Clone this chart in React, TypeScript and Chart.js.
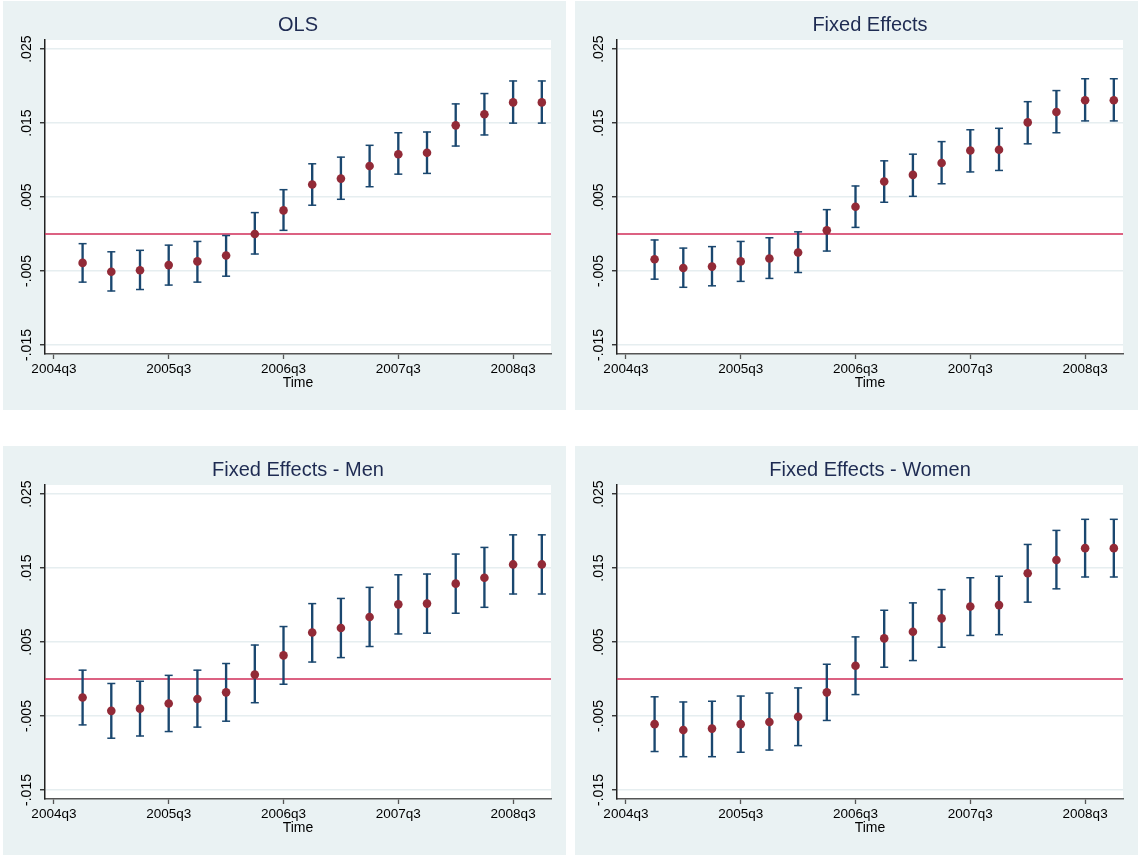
import React, { useEffect, useRef } from 'react';
import { Chart, registerables } from 'chart.js';

Chart.register(...registerables);
Chart.defaults.font.family = '"Liberation Sans", Arial, sans-serif';

// ---- data ----
const quarters = [
  '2004q4', '2005q1', '2005q2', '2005q3', '2005q4', '2006q1', '2006q2', '2006q3', '2006q4',
  '2007q1', '2007q2', '2007q3', '2007q4', '2008q1', '2008q2', '2008q3', '2008q4',
];
const xTickQuarters = ['2004q3', '2005q3', '2006q3', '2007q3', '2008q3'];
const yTickValues = [-0.015, -0.005, 0.005, 0.015, 0.025];
const yTickLabels = ['-.015', '-.005', '.005', '.015', '.025'];
const xAxisTitle = 'Time';
const panelTitles = ['OLS', 'Fixed Effects', 'Fixed Effects - Men', 'Fixed Effects - Women'];

const olsCoef = [-0.0039, -0.0051, -0.0049, -0.0042, -0.0037, -0.0029, 0.0000, 0.0032, 0.0067, 0.0075, 0.0092, 0.0108, 0.0110, 0.0147, 0.0162, 0.0178, 0.0178];
const olsLo = [-0.0065, -0.0077, -0.0075, -0.0069, -0.0065, -0.0057, -0.0027, 0.0005, 0.0039, 0.0047, 0.0064, 0.0081, 0.0082, 0.0119, 0.0134, 0.0150, 0.0150];
const olsHi = [-0.0013, -0.0024, -0.0022, -0.0015, -0.0010, -0.0002, 0.0029, 0.0060, 0.0095, 0.0104, 0.0120, 0.0137, 0.0138, 0.0176, 0.0190, 0.0207, 0.0207];

const feCoef = [-0.0034, -0.0046, -0.0044, -0.0037, -0.0033, -0.0025, 0.0005, 0.0037, 0.0071, 0.0080, 0.0096, 0.0113, 0.0114, 0.0151, 0.0165, 0.0181, 0.0181];
const feLo = [-0.0061, -0.0072, -0.0070, -0.0064, -0.0060, -0.0052, -0.0023, 0.0009, 0.0043, 0.0051, 0.0068, 0.0084, 0.0086, 0.0122, 0.0137, 0.0153, 0.0153];
const feHi = [-0.0008, -0.0019, -0.0017, -0.0010, -0.0005, 0.0003, 0.0033, 0.0065, 0.0099, 0.0108, 0.0125, 0.0141, 0.0143, 0.0179, 0.0194, 0.0210, 0.0210];

const menCoef = [-0.0025, -0.0043, -0.0040, -0.0033, -0.0027, -0.0018, 0.0006, 0.0032, 0.0063, 0.0069, 0.0084, 0.0101, 0.0102, 0.0129, 0.0137, 0.0155, 0.0155];
const menLo = [-0.0062, -0.0080, -0.0077, -0.0071, -0.0065, -0.0057, -0.0032, -0.0007, 0.0023, 0.0029, 0.0044, 0.0061, 0.0062, 0.0089, 0.0097, 0.0115, 0.0115];
const menHi = [0.0012, -0.0006, -0.0003, 0.0005, 0.0012, 0.0021, 0.0046, 0.0071, 0.0102, 0.0109, 0.0124, 0.0141, 0.0142, 0.0169, 0.0178, 0.0195, 0.0195];

const womenCoef = [-0.0061, -0.0069, -0.0067, -0.0061, -0.0058, -0.0051, -0.0018, 0.0018, 0.0055, 0.0064, 0.0082, 0.0098, 0.0100, 0.0143, 0.0161, 0.0177, 0.0177];
const womenLo = [-0.0098, -0.0105, -0.0105, -0.0099, -0.0096, -0.0090, -0.0056, -0.0021, 0.0016, 0.0025, 0.0043, 0.0059, 0.0060, 0.0104, 0.0122, 0.0138, 0.0138];
const womenHi = [-0.0024, -0.0031, -0.0030, -0.0023, -0.0019, -0.0012, 0.0020, 0.0057, 0.0093, 0.0103, 0.0121, 0.0137, 0.0139, 0.0182, 0.0201, 0.0216, 0.0216];

const referenceValue = 0;

// ---- style ----
const X_MIN = -0.31;
const X_MAX = 17.32;
const Y_MIN = -0.01622;
const Y_MAX = 0.02624;
const PANEL_BG = '#EAF2F3';
const NAVY = '#1A476F';
const MAROON = '#922A37';
const RED = '#D02C59';
const TITLE_COLOR = '#1E2B52';
const GRID = '#E6EEF0';
const PANEL_W = 563;
const PANEL_H = 409;

function qIndex(label: string): number {
  const y = parseInt(label.slice(0, 4), 10);
  const q = parseInt(label.slice(5), 10);
  return (y - 2004) * 4 + (q - 3);
}

const plotBg = {
  id: 'plotBg',
  beforeDraw(chart: any) {
    const { ctx, chartArea: a } = chart;
    ctx.save();
    ctx.fillStyle = '#ffffff';
    ctx.fillRect(a.left, a.top, a.right - a.left, a.bottom - a.top);
    ctx.restore();
  },
};

type PanelProps = { title: string; coef: number[]; lo: number[]; hi: number[]; left: number; top: number };

function Panel({ title, coef, lo, hi, left, top }: PanelProps) {
  const ref = useRef<HTMLCanvasElement | null>(null);
  useEffect(() => {
    if (!ref.current) return;
    const xs = quarters.map(qIndex);
    const chart = new Chart(ref.current, {
      type: 'scatter',
      data: {
        datasets: [
          {
            type: 'line',
            data: [
              { x: X_MIN, y: referenceValue },
              { x: X_MAX, y: referenceValue },
            ],
            borderColor: RED,
            borderWidth: 1.6,
            pointRadius: 0,
            order: 6,
          } as any,
          {
            type: 'bar',
            data: xs.map((x, i) => ({ x, y: [lo[i], hi[i]] })),
            backgroundColor: NAVY,
            borderWidth: 0,
            barThickness: 1.7,
            order: 5,
          } as any,
          {
            type: 'scatter',
            data: xs.map((x, i) => ({ x, y: hi[i] })),
            pointStyle: 'line',
            pointRadius: 4,
            pointBorderColor: NAVY,
            pointBorderWidth: 1.5,
            order: 4,
          } as any,
          {
            type: 'scatter',
            data: xs.map((x, i) => ({ x, y: lo[i] })),
            pointStyle: 'line',
            pointRadius: 4,
            pointBorderColor: NAVY,
            pointBorderWidth: 1.5,
            order: 3,
          } as any,
          {
            type: 'scatter',
            data: xs.map((x, i) => ({ x, y: coef[i] })),
            pointStyle: 'circle',
            pointRadius: 4.3,
            pointBackgroundColor: MAROON,
            pointBorderColor: MAROON,
            pointBorderWidth: 0,
            order: 1,
          } as any,
        ],
      },
      options: {
        responsive: false,
        animation: false,
        devicePixelRatio: 1,
        events: [],
        layout: { padding: { left: 0, right: 15, top: 0, bottom: 0 } },
        plugins: {
          legend: { display: false },
          tooltip: { enabled: false },
          title: {
            display: true,
            fullSize: false,
            text: title,
            color: TITLE_COLOR,
            font: { size: 20, weight: 'normal' },
            padding: { top: 12, bottom: 3 },
          },
        },
        scales: {
          x: {
            type: 'linear',
            min: X_MIN,
            max: X_MAX,
            offset: false,
            afterBuildTicks: (s: any) => {
              s.ticks = xTickQuarters.map((q) => ({ value: qIndex(q) }));
            },
            afterFit: (s: any) => {
              s.height = 56;
            },
            ticks: {
              autoSkip: false,
              maxRotation: 0,
              minRotation: 0,
              padding: 2,
              color: '#000',
              font: { size: 13.5 },
              callback: (_v: any, i: number) => xTickQuarters[i],
            },
            grid: { drawOnChartArea: false, drawTicks: true, tickLength: 5, tickColor: '#555', tickWidth: 1.3, offset: false },
            border: { display: true, color: '#555', width: 1.5 },
            title: { display: true, text: xAxisTitle, color: '#000', font: { size: 14 }, padding: { top: 0, bottom: 18 } },
          },
          y: {
            type: 'linear',
            min: Y_MIN,
            max: Y_MAX,
            afterBuildTicks: (s: any) => {
              s.ticks = yTickValues.map((v) => ({ value: v }));
            },
            afterFit: (s: any) => {
              s.width = 42;
            },
            ticks: {
              autoSkip: false,
              minRotation: 90,
              maxRotation: 90,
              crossAlign: 'center',
              padding: -3,
              color: '#000',
              font: { size: 14 },
              callback: (_v: any, i: number) => yTickLabels[i],
            },
            grid: { color: GRID, lineWidth: 1.5, drawTicks: true, tickLength: 5, tickColor: '#222', tickWidth: 1.3 },
            border: { display: true, color: '#222', width: 1.5 },
          },
        },
      } as any,
      plugins: [plotBg],
    });
    return () => chart.destroy();
  }, [title, coef, lo, hi]);

  return (
    <div style={{ position: 'absolute', left, top, width: PANEL_W, height: PANEL_H, background: PANEL_BG }}>
      <canvas ref={ref} width={PANEL_W} height={PANEL_H} style={{ display: 'block', width: PANEL_W, height: PANEL_H }} />
    </div>
  );
}

export default function App() {
  return (
    <div style={{ position: 'absolute', left: 0, top: 0, width: 1138, height: 857, background: '#ffffff', overflow: 'hidden' }}>
      <Panel title={panelTitles[0]} coef={olsCoef} lo={olsLo} hi={olsHi} left={3} top={1} />
      <Panel title={panelTitles[1]} coef={feCoef} lo={feLo} hi={feHi} left={575} top={1} />
      <Panel title={panelTitles[2]} coef={menCoef} lo={menLo} hi={menHi} left={3} top={446} />
      <Panel title={panelTitles[3]} coef={womenCoef} lo={womenLo} hi={womenHi} left={575} top={446} />
    </div>
  );
}
